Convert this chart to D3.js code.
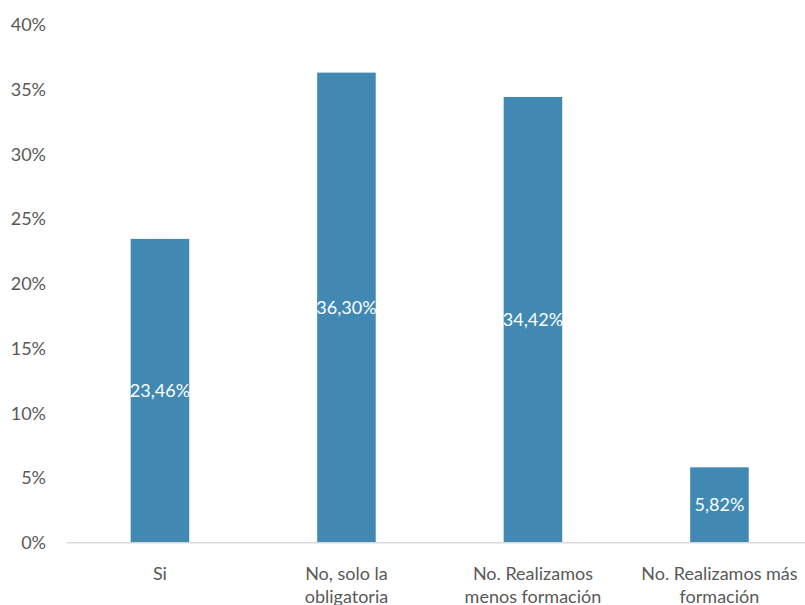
<!DOCTYPE html>
<html>
<head>
<meta charset="utf-8">
<script src="https://cdn.jsdelivr.net/npm/d3@7"></script>
<style>
  html, body { margin: 0; padding: 0; background: #fff; }
  svg { display: block; }
  text { font-family: Lato, "Open Sans", sans-serif; }
</style>
</head>
<body>
<script>
const categories = ["Si", "No, solo la\nobligatoria", "No. Realizamos\nmenos formación", "No. Realizamos más\nformación"];
const values = [23.46, 36.30, 34.42, 5.82];
const valueLabels = ["23,46%", "36,30%", "34,42%", "5,82%"];
const yTicks = [0, 5, 10, 15, 20, 25, 30, 35, 40];

const W = 805, H = 605;
const svg = d3.select("body").append("svg").attr("width", W).attr("height", H);

const x = d3.scaleBand().domain(categories).range([66.7, 812.7]).paddingInner(0.686).paddingOuter(0.343);
const y = d3.scaleLinear().domain([0, 40]).range([542.7, 24.7]);

// y tick labels
svg.append("g").selectAll("text").data(yTicks).join("text")
  .attr("x", 46).attr("y", d => y(d)).attr("dy", "0.35em")
  .attr("text-anchor", "end").attr("font-size", 18).attr("fill", "#595959")
  .text(d => d + "%");

// bars
svg.append("g").selectAll("rect").data(values).join("rect")
  .attr("x", (d, i) => x(categories[i])).attr("width", x.bandwidth())
  .attr("y", d => y(d)).attr("height", d => y(0) - y(d))
  .attr("fill", "#4189b3");

// axis line
svg.append("line").attr("x1", 66.7).attr("x2", W).attr("y1", y(0)).attr("y2", y(0))
  .attr("stroke", "#d9d9d9").attr("stroke-width", 1.5);

// value labels
svg.append("g").selectAll("text").data(values).join("text")
  .attr("x", (d, i) => x(categories[i]) + x.bandwidth() / 2)
  .attr("y", d => (y(d) + y(0)) / 2).attr("dy", "0.35em")
  .attr("text-anchor", "middle").attr("font-size", 18).attr("fill", "#ffffff")
  .text((d, i) => valueLabels[i]);

// category labels
const cl = svg.append("g").selectAll("text").data(categories).join("text")
  .attr("text-anchor", "middle").attr("font-size", 18).attr("fill", "#595959")
  .attr("x", d => x(d) + x.bandwidth() / 2).attr("y", 580);
cl.each(function(d) {
  const lines = d.split("\n");
  d3.select(this).selectAll("tspan").data(lines).join("tspan")
    .attr("x", x(d) + x.bandwidth() / 2)
    .attr("dy", (l, i) => i === 0 ? 0 : 23)
    .text(l => l);
});
</script>
</body>
</html>
